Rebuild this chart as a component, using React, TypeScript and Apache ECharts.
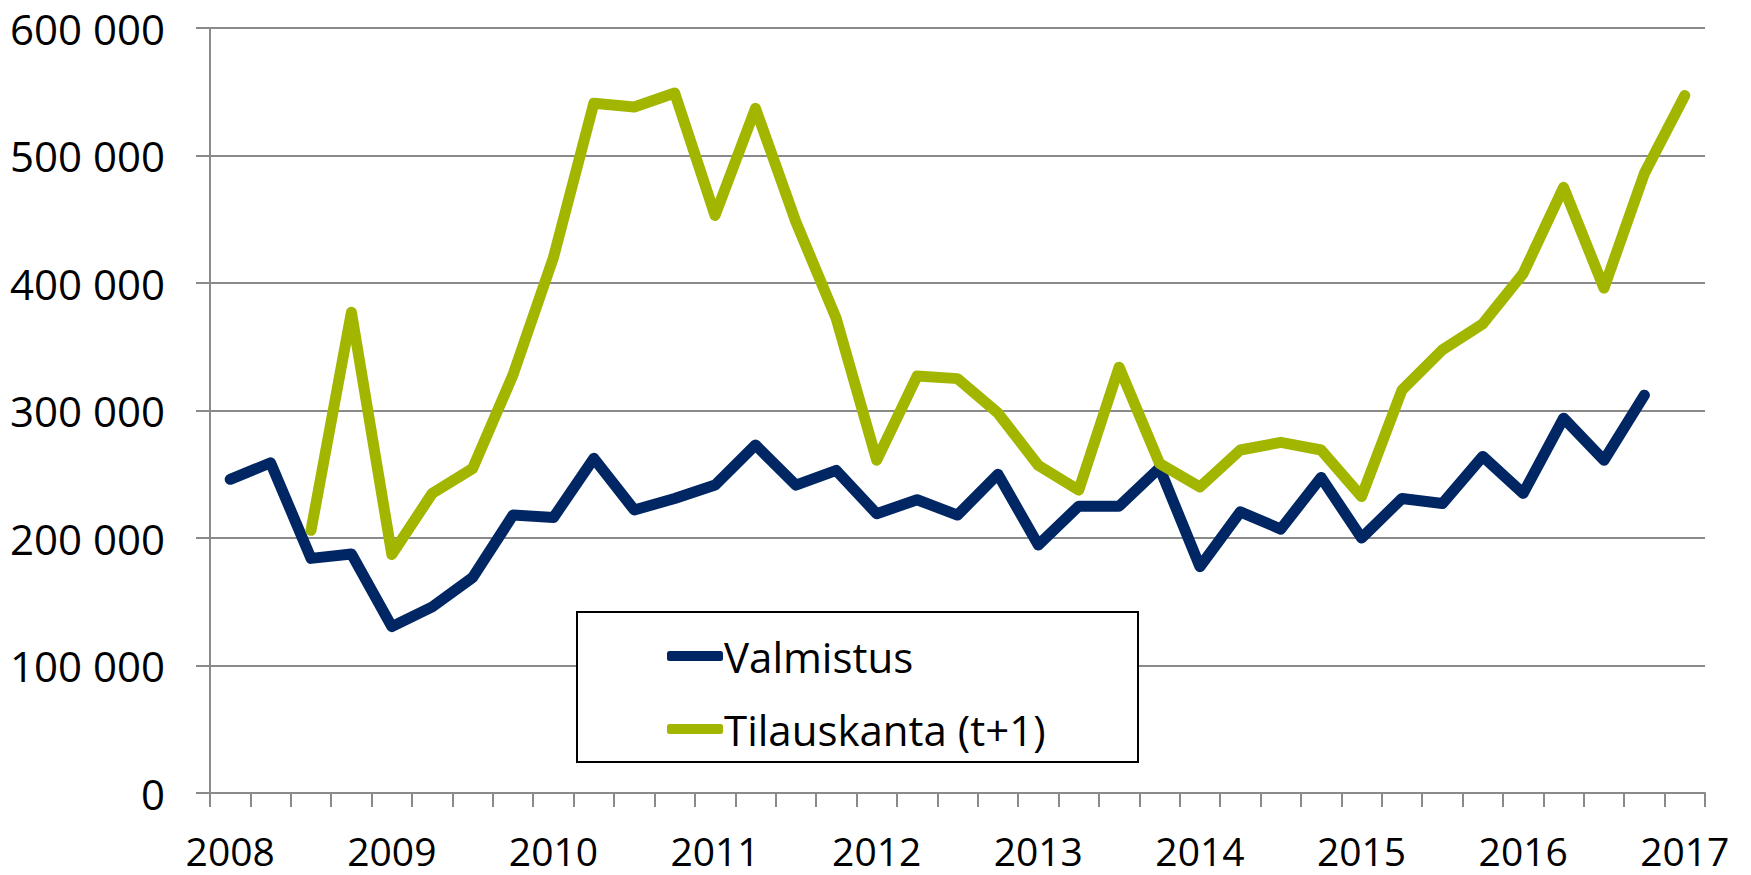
import React, { useEffect, useRef } from "react";
import * as echarts from "echarts";

const quarters = [
  "2008Q1", "2008Q2", "2008Q3", "2008Q4",
  "2009Q1", "2009Q2", "2009Q3", "2009Q4",
  "2010Q1", "2010Q2", "2010Q3", "2010Q4",
  "2011Q1", "2011Q2", "2011Q3", "2011Q4",
  "2012Q1", "2012Q2", "2012Q3", "2012Q4",
  "2013Q1", "2013Q2", "2013Q3", "2013Q4",
  "2014Q1", "2014Q2", "2014Q3", "2014Q4",
  "2015Q1", "2015Q2", "2015Q3", "2015Q4",
  "2016Q1", "2016Q2", "2016Q3", "2016Q4",
  "2017Q1",
];

const valmistus = [
  246000, 259000, 184000, 187500, 130500, 146000, 169000, 218000, 216000,
  262500, 222000, 231000, 241500, 273000, 241500, 253000, 219000, 230000,
  218000, 250000, 194500, 225000, 225000, 255000, 177500, 220500, 207000,
  247500, 200000, 231000, 227000, 264000, 235000, 294000, 261000, 312000,
  null,
];

const tilauskanta = [
  null, null, 206000, 377000, 187000, 235000, 254500, 328000, 420000,
  541000, 538000, 549000, 453000, 537000, 448000, 372000, 261000, 327000,
  325000, 298000, 257000, 237500, 334000, 258500, 240000, 269000, 275000,
  269000, 232500, 316000, 347500, 368000, 407500, 475000, 396000, 486000,
  547000,
];

const seriesNames = ["Valmistus", "Tilauskanta (t+1)"];
const yTicks = [0, 100000, 200000, 300000, 400000, 500000, 600000];

const FONT = "Open Sans";
const GRAY = "#8a8a8a";

export default function App() {
  const ref = useRef<HTMLDivElement>(null);

  useEffect(() => {
    document.body.style.margin = "0";
    const chart = echarts.init(ref.current!, null, { renderer: "svg" });
    const fmt = (v: number) =>
      String(v).replace(/\B(?=(\d{3})+(?!\d))/g, " ");
    chart.setOption({
      animation: false,
      backgroundColor: "#ffffff",
      grid: { left: 210, right: 46, top: 28, bottom: 82, containLabel: false },
      xAxis: {
        type: "category",
        data: quarters,
        boundaryGap: true,
        axisLine: { show: true, lineStyle: { color: GRAY, width: 2 } },
        axisTick: {
          show: true,
          interval: 0,
          length: 14,
          lineStyle: { color: GRAY, width: 2 },
        },
        axisLabel: {
          interval: 3,
          margin: 43,
          color: "#000",
          fontFamily: FONT,
          fontSize: 39,
          lineHeight: 28,
          formatter: (v: string) => v.slice(0, 4),
        },
        splitLine: { show: false },
      },
      yAxis: {
        type: "value",
        min: yTicks[0],
        max: yTicks[yTicks.length - 1],
        interval: 100000,
        axisLine: { show: true, lineStyle: { color: GRAY, width: 2 } },
        axisTick: { show: true, length: 14, lineStyle: { color: GRAY, width: 2 } },
        axisLabel: {
          margin: 45,
          color: "#000",
          fontFamily: FONT,
          fontSize: 42,
          formatter: fmt,
        },
        splitLine: { show: true, lineStyle: { color: GRAY, width: 2 } },
      },
      graphic: [
        {
          type: "rect",
          z: 1,
          shape: { x: 577, y: 612, width: 561, height: 150 },
          style: { fill: "#ffffff", stroke: "#000000", lineWidth: 2 },
        },
      ],
      legend: {
        orient: "vertical",
        left: 662,
        top: 630,
        itemWidth: 56,
        itemHeight: 10,
        itemGap: 31,
        icon: "roundRect",
        data: seriesNames,
        textStyle: {
          color: "#000",
          fontFamily: FONT,
          fontSize: 42,
          lineHeight: 42,
          padding: [0, 0, 0, -4],
        },
      },
      series: [
        {
          name: seriesNames[0],
          type: "line",
          data: valmistus,
          showSymbol: false,
          symbol: "none",
          connectNulls: false,
          itemStyle: { color: "#002664" },
          lineStyle: { color: "#002664", width: 11, cap: "round", join: "round" },
          z: 3,
        },
        {
          name: seriesNames[1],
          type: "line",
          data: tilauskanta,
          showSymbol: false,
          symbol: "none",
          connectNulls: false,
          itemStyle: { color: "#a2b600" },
          lineStyle: { color: "#a2b600", width: 11, cap: "round", join: "round" },
          z: 4,
        },
      ],
    });
    return () => chart.dispose();
  }, []);

  return <div ref={ref} style={{ width: 1751, height: 875 }} />;
}
